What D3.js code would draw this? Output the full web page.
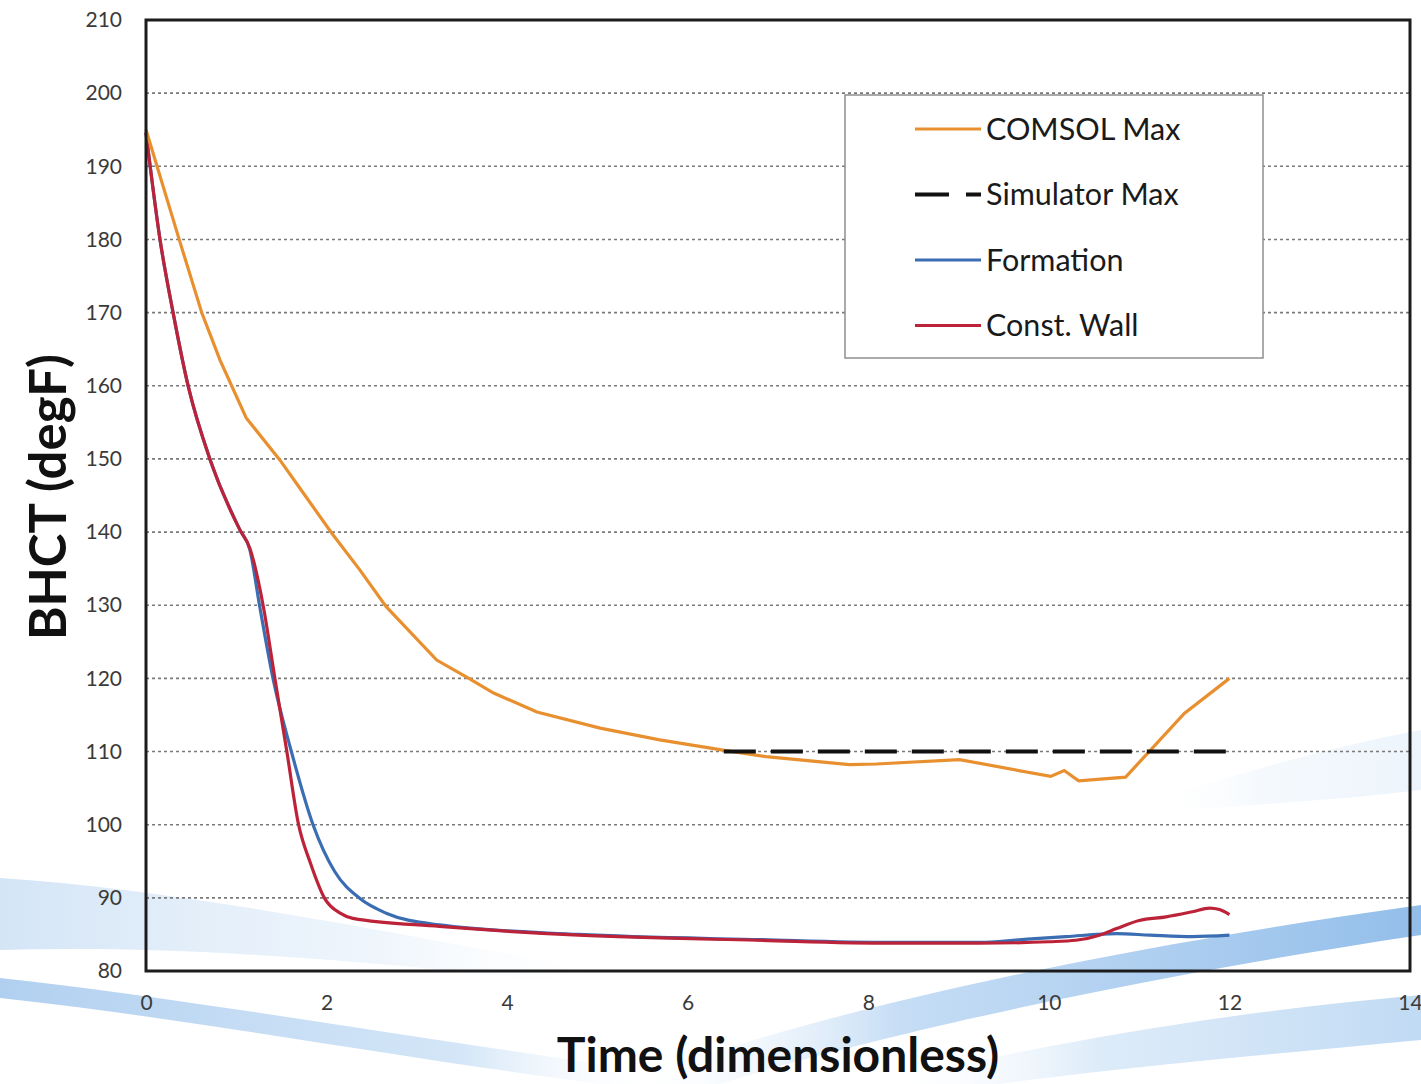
<!DOCTYPE html>
<html>
<head>
<meta charset="utf-8">
<script src="https://cdn.jsdelivr.net/npm/d3@7"></script>
<style>
  html, body { margin: 0; padding: 0; background: #fff; }
  svg { display: block; font-family: Lato, "Open Sans", sans-serif; }
</style>
</head>
<body>
<svg id="chart" width="1421" height="1084"></svg>
<script>
// Series values
const comsolTime = [0, 0.38, 0.62, 0.82, 1.11, 1.48, 1.75, 2.06, 2.37, 2.66, 3.22, 3.59, 3.85, 4.33, 5.03, 5.69, 6.39, 6.87, 7.79, 8.09, 9.01, 10.02, 10.17, 10.33, 10.85, 11.5, 12];
const comsolMax = [195, 179.5, 169.9, 163.5, 155.6, 149.9, 145.2, 139.8, 134.8, 129.8, 122.5, 119.9, 118, 115.4, 113.2, 111.6, 110.2, 109.3, 108.2, 108.3, 108.9, 106.6, 107.4, 106.0, 106.5, 115.2, 120];

const simTime = [6.4, 12];
const simMax = [110, 110];

const formationTime = [0, 0.155, 0.3, 0.47, 0.71, 1.04, 1.15, 1.26, 1.41, 1.61, 1.85, 2.09, 2.37, 2.66, 3.25, 4.79, 6.77, 8.25, 9.23, 9.7, 10.19, 10.75, 11.12, 11.59, 12];
const formation = [194.6, 180, 170, 159.8, 149.9, 140.3, 137.6, 129.8, 119.8, 110, 100, 93.6, 89.9, 87.9, 86.3, 85.0, 84.3, 83.9, 83.9, 84.3, 84.7, 85.1, 84.9, 84.7, 84.9];

const wallTime = [0, 0.155, 0.3, 0.47, 0.71, 1.04, 1.15, 1.30, 1.43, 1.56, 1.69, 1.82, 1.98, 2.15, 2.29, 3.25, 4.79, 6.77, 8.25, 9.23, 10.0, 10.30, 10.56, 10.75, 11.0, 11.30, 11.59, 11.78, 11.89, 12.0];
const constWall = [194.6, 180, 170, 159.8, 149.9, 140.3, 137.8, 129.8, 119.8, 110.0, 100, 94.8, 89.9, 87.9, 87.2, 86.1, 84.9, 84.2, 83.8, 83.8, 84.0, 84.2, 84.9, 85.8, 86.9, 87.4, 88.1, 88.6, 88.4, 87.7];

const xTicks = [0, 2, 4, 6, 8, 10, 12, 14];
const yTicks = [80, 90, 100, 110, 120, 130, 140, 150, 160, 170, 180, 190, 200, 210];

const legendNames = ['COMSOL Max', 'Simulator Max', 'Formation', 'Const. Wall'];
const seriesColors = ['#E8902F', '#111111', '#3B6DB3', '#BC2339'];

const svg = d3.select('#chart');
const defs = svg.append('defs');

// ===================================
// Decorative background swooshes
// ===================================
function addGradient(id, stops) {
  const g = defs.append('linearGradient').attr('id', id)
    .attr('x1', '0%').attr('x2', '100%').attr('y1', '0%').attr('y2', '0%');
  stops.forEach(([o, c, a]) => {
    g.append('stop').attr('offset', o).attr('stop-color', c).attr('stop-opacity', a);
  });
}
addGradient('sw-left', [['0%', '#a9cbee', 0.5], ['60%', '#c7ddf4', 0.3], ['100%', '#ffffff', 0]]);
addGradient('sw-thin', [['0%', '#8fbbe9', 0.7], ['70%', '#a9cdf0', 0.5], ['100%', '#ffffff', 0]]);
addGradient('sw-right', [['0%', '#ffffff', 0], ['35%', '#9fc6ee', 0.6], ['100%', '#7fb2e6', 0.85]]);
addGradient('sw-low', [['0%', '#ffffff', 0], ['40%', '#bcd8f3', 0.5], ['100%', '#a6cbef', 0.7]]);

const swoosh = svg.append('g').attr('class', 'swooshes');
swoosh.append('path')
  .attr('d', 'M0,878 C180,890 380,930 620,975 L620,990 C380,960 180,945 0,950 Z')
  .attr('fill', 'url(#sw-left)');
swoosh.append('path')
  .attr('d', 'M0,978 C200,1000 420,1040 660,1072 L660,1084 L600,1084 C400,1058 200,1020 0,998 Z')
  .attr('fill', 'url(#sw-thin)');
swoosh.append('path')
  .attr('d', 'M620,1084 C820,1010 1100,950 1421,905 L1421,935 C1120,980 860,1040 720,1084 Z')
  .attr('fill', 'url(#sw-right)');
swoosh.append('path')
  .attr('d', 'M880,1084 C1050,1040 1250,1010 1421,995 L1421,1040 C1260,1055 1100,1070 1000,1084 Z')
  .attr('fill', 'url(#sw-low)');
swoosh.append('path')
  .attr('d', 'M1150,800 C1250,770 1340,745 1421,730 L1421,790 C1340,800 1250,805 1150,812 Z')
  .attr('fill', 'url(#sw-low)').attr('opacity', 0.3);

// ===================================
// Scales & grid
// ===================================
const x = d3.scaleLinear().domain([0, 14]).range([146, 1410]);
const y = d3.scaleLinear().domain([80, 210]).range([971, 20]);

const grid = svg.append('g').attr('class', 'grid');
grid.selectAll('line')
  .data(yTicks.filter((t) => t > 80 && t < 210))
  .join('line')
  .attr('x1', x(0)).attr('x2', x(14))
  .attr('y1', (d) => y(d)).attr('y2', (d) => y(d))
  .attr('stroke', '#7a7a7a')
  .attr('stroke-width', 1.6)
  .attr('stroke-dasharray', '3,3');

// Axes (tick labels only, frame drawn separately)
const yAxis = svg.append('g')
  .attr('transform', `translate(${x(0)},0)`)
  .call(d3.axisLeft(y).tickValues(yTicks).tickSize(0).tickPadding(24));
const xAxis = svg.append('g')
  .attr('transform', `translate(0,${y(80)})`)
  .call(d3.axisBottom(x).tickValues(xTicks).tickSize(0).tickPadding(24));
[xAxis, yAxis].forEach((a) => {
  a.select('.domain').remove();
  a.selectAll('text')
    .attr('fill', '#3a3a3a')
    .style('font-family', 'Lato, sans-serif')
    .style('font-size', '21px');
});

// ===================================
// Series
// ===================================
const plot = svg.append('g').attr('class', 'series');
const line = d3.line()
  .x((d) => x(d[0]))
  .y((d) => y(d[1]))
  .curve(d3.curveMonotoneX);

const zip = (ts, vs) => ts.map((t, i) => [t, vs[i]]);

plot.append('path')
  .datum(zip(formationTime, formation))
  .attr('d', line)
  .attr('fill', 'none')
  .attr('stroke', seriesColors[2])
  .attr('stroke-width', 3.2);

plot.append('path')
  .datum(zip(wallTime, constWall))
  .attr('d', line)
  .attr('fill', 'none')
  .attr('stroke', seriesColors[3])
  .attr('stroke-width', 3.2);

plot.append('path')
  .datum(zip(comsolTime, comsolMax))
  .attr('d', line.curve(d3.curveLinear))
  .attr('fill', 'none')
  .attr('stroke', seriesColors[0])
  .attr('stroke-width', 3.2);

plot.append('path')
  .datum(zip(simTime, simMax))
  .attr('d', line)
  .attr('fill', 'none')
  .attr('stroke', seriesColors[1])
  .attr('stroke-width', 4)
  .attr('stroke-dasharray', '32,15');

// Plot frame
svg.append('rect')
  .attr('x', x(0)).attr('y', y(210))
  .attr('width', x(14) - x(0)).attr('height', y(80) - y(210))
  .attr('fill', 'none')
  .attr('stroke', '#1c1c1c')
  .attr('stroke-width', 3);

// ===================================
// Legend
// ===================================
const legend = svg.append('g').attr('transform', 'translate(845,95)');
legend.append('rect')
  .attr('width', 418).attr('height', 263)
  .attr('fill', '#fff')
  .attr('stroke', '#8f8f8f')
  .attr('stroke-width', 1.5);

const rows = legend.selectAll('g.row')
  .data(legendNames)
  .join('g')
  .attr('class', 'row')
  .attr('transform', (d, i) => `translate(0,${34 + i * 65.5})`);

rows.append('line')
  .attr('x1', 70).attr('x2', 136)
  .attr('stroke', (d, i) => seriesColors[i])
  .attr('stroke-width', (d, i) => (i === 1 ? 4 : 3.2))
  .attr('stroke-dasharray', (d, i) => (i === 1 ? '34,17' : null));

rows.append('text')
  .attr('x', 141)
  .attr('dy', '0.36em')
  .attr('fill', '#1a1a1a')
  .style('font-size', '30.5px')
  .text((d) => d);

// ===================================
// Axis titles
// ===================================
svg.append('text')
  .attr('transform', 'translate(66,497) rotate(-90)')
  .attr('text-anchor', 'middle')
  .attr('fill', '#111')
  .style('font-size', '51px')
  .style('font-weight', 'bold')
  .text('BHCT (degF)');

svg.append('text')
  .attr('x', 778)
  .attr('y', 1072)
  .attr('text-anchor', 'middle')
  .attr('fill', '#111')
  .style('font-size', '48px')
  .style('font-weight', 'bold')
  .text('Time (dimensionless)');
</script>
</body>
</html>
